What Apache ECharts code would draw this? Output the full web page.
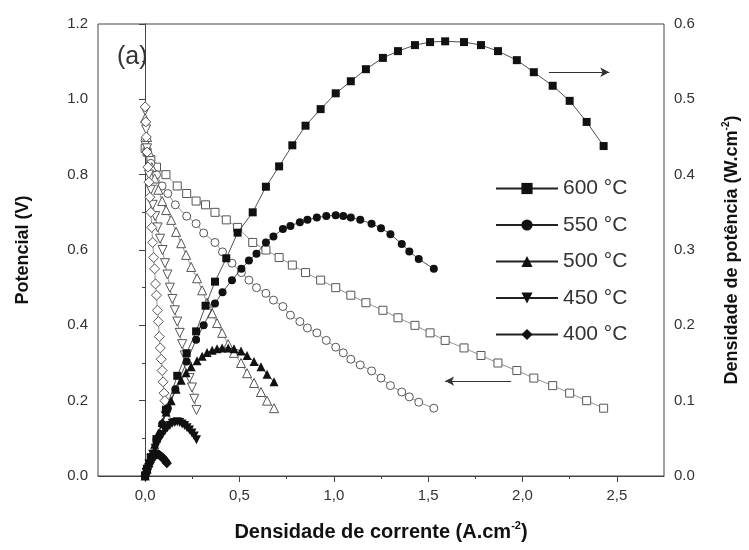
<!DOCTYPE html>
<html>
<head>
<meta charset="utf-8">
<script src="https://cdn.jsdelivr.net/npm/echarts@6/dist/echarts.min.js"></script>
<style>
  html, body { margin: 0; padding: 0; background: #fff; }
  #chart { width: 749px; height: 550px; }
</style>
</head>
<body>
<div id="chart"></div>
<script>
// Fuel-cell polarisation (V) and power density (P) curves at five temperatures.
// Current density in A/cm2, potential in V, power density in W/cm2.

const temperatures = ['600 °C', '550 °C', '500 °C', '450 °C', '400 °C'];

const current600 = [0.00, 0.01, 0.03, 0.06, 0.11, 0.17, 0.22, 0.27, 0.32, 0.37, 0.43, 0.49, 0.57, 0.64, 0.71, 0.78, 0.85, 0.93, 1.01, 1.09, 1.17, 1.26, 1.34, 1.43, 1.51, 1.59, 1.69, 1.78, 1.87, 1.97, 2.06, 2.16, 2.25, 2.34, 2.43];
const voltage600 = [0.87, 0.86, 0.84, 0.82, 0.80, 0.77, 0.75, 0.73, 0.72, 0.70, 0.68, 0.66, 0.62, 0.60, 0.58, 0.56, 0.54, 0.52, 0.50, 0.48, 0.46, 0.44, 0.42, 0.40, 0.38, 0.36, 0.34, 0.32, 0.30, 0.28, 0.26, 0.24, 0.22, 0.20, 0.18];
const power600   = [0.000, 0.009, 0.025, 0.049, 0.088, 0.133, 0.163, 0.192, 0.226, 0.258, 0.289, 0.323, 0.350, 0.384, 0.411, 0.439, 0.465, 0.487, 0.508, 0.524, 0.540, 0.555, 0.564, 0.572, 0.576, 0.577, 0.576, 0.572, 0.564, 0.552, 0.536, 0.518, 0.498, 0.470, 0.438];

const current550 = [0.00, 0.01, 0.03, 0.06, 0.09, 0.12, 0.16, 0.22, 0.27, 0.31, 0.37, 0.41, 0.46, 0.51, 0.55, 0.59, 0.64, 0.68, 0.73, 0.77, 0.82, 0.86, 0.91, 0.96, 1.01, 1.05, 1.09, 1.14, 1.20, 1.25, 1.30, 1.36, 1.40, 1.45, 1.53];
const voltage550 = [0.89, 0.86, 0.83, 0.80, 0.77, 0.75, 0.72, 0.69, 0.67, 0.645, 0.62, 0.595, 0.565, 0.54, 0.52, 0.50, 0.485, 0.467, 0.45, 0.427, 0.41, 0.393, 0.38, 0.36, 0.342, 0.327, 0.31, 0.295, 0.279, 0.26, 0.24, 0.223, 0.21, 0.196, 0.18];
const power550   = [0.000, 0.009, 0.025, 0.048, 0.069, 0.090, 0.115, 0.152, 0.181, 0.200, 0.229, 0.244, 0.260, 0.275, 0.286, 0.295, 0.310, 0.318, 0.328, 0.332, 0.337, 0.340, 0.343, 0.345, 0.346, 0.345, 0.343, 0.340, 0.335, 0.329, 0.321, 0.308, 0.298, 0.288, 0.275];

const current500 = [0.00, 0.01, 0.02, 0.035, 0.05, 0.07, 0.09, 0.111, 0.138, 0.164, 0.191, 0.217, 0.244, 0.275, 0.302, 0.328, 0.355, 0.381, 0.408, 0.44, 0.471, 0.508, 0.540, 0.577, 0.614, 0.646, 0.683];
const voltage500 = [0.95, 0.90, 0.86, 0.82, 0.79, 0.76, 0.73, 0.706, 0.68, 0.648, 0.618, 0.587, 0.555, 0.525, 0.493, 0.46, 0.432, 0.406, 0.38, 0.35, 0.327, 0.30, 0.273, 0.247, 0.223, 0.20, 0.18];
const power500   = [0.000, 0.009, 0.018, 0.030, 0.042, 0.057, 0.071, 0.085, 0.100, 0.115, 0.127, 0.137, 0.145, 0.153, 0.159, 0.164, 0.167, 0.169, 0.170, 0.170, 0.169, 0.166, 0.160, 0.152, 0.145, 0.135, 0.125];

const current450 = [0.000, 0.005, 0.010, 0.020, 0.030, 0.040, 0.053, 0.066, 0.079, 0.092, 0.105, 0.118, 0.131, 0.144, 0.157, 0.170, 0.183, 0.196, 0.209, 0.222, 0.235, 0.248, 0.260, 0.272];
const voltage450 = [0.97, 0.92, 0.87, 0.80, 0.76, 0.72, 0.69, 0.66, 0.63, 0.60, 0.565, 0.535, 0.50, 0.47, 0.44, 0.41, 0.38, 0.35, 0.32, 0.29, 0.26, 0.235, 0.205, 0.175];
const power450   = [0.000, 0.005, 0.009, 0.016, 0.023, 0.029, 0.037, 0.044, 0.050, 0.055, 0.060, 0.064, 0.067, 0.070, 0.071, 0.072, 0.071, 0.069, 0.067, 0.064, 0.061, 0.057, 0.053, 0.048];

const current400 = [0.000, 0.003, 0.006, 0.010, 0.015, 0.020, 0.025, 0.030, 0.035, 0.040, 0.045, 0.050, 0.055, 0.060, 0.065, 0.070, 0.075, 0.080, 0.085, 0.090, 0.095, 0.100, 0.105, 0.110, 0.115];
const voltage400 = [0.98, 0.94, 0.90, 0.86, 0.82, 0.78, 0.74, 0.70, 0.66, 0.62, 0.58, 0.55, 0.51, 0.48, 0.44, 0.41, 0.37, 0.34, 0.31, 0.28, 0.25, 0.22, 0.20, 0.17, 0.15];
const power400   = [0.000, 0.003, 0.005, 0.009, 0.012, 0.016, 0.018, 0.021, 0.023, 0.025, 0.026, 0.027, 0.028, 0.029, 0.029, 0.029, 0.028, 0.027, 0.026, 0.025, 0.024, 0.022, 0.021, 0.019, 0.017];

const currentTicks = [0, 0.5, 1.0, 1.5, 2.0, 2.5];
const currentMinorTicks = [0.25, 0.75, 1.25, 1.75, 2.25];

const groups = [
  { name: temperatures[0], symbol: 'rect',     size: 8,  i: current600, v: voltage600, p: power600 },
  { name: temperatures[1], symbol: 'circle',   size: 8,  i: current550, v: voltage550, p: power550 },
  { name: temperatures[2], symbol: 'triangle', size: 9,  i: current500, v: voltage500, p: power500 },
  { name: temperatures[3], symbol: 'triangle', size: 9,  i: current450, v: voltage450, p: power450, rotate: 180 },
  { name: temperatures[4], symbol: 'diamond',  size: 10, i: current400, v: voltage400, p: power400 }
];

const FONT = '"Liberation Sans", Arial, Helvetica, sans-serif';
const AXIS_COLOR = '#444';
const TEXT_COLOR = '#333';

const series = [];

// Hollow markers: potential against current density (left axis)
groups.forEach(function (g, k) {
  const s = {
    name: 'V ' + g.name,
    type: 'line',
    xAxisIndex: 0,
    yAxisIndex: 0,
    data: g.i.map(function (c, j) { return [c, g.v[j]]; }),
    symbol: g.symbol,
    symbolSize: g.size,
    symbolRotate: g.rotate || 0,
    showAllSymbol: true,
    lineStyle: { color: '#777', width: 0.8 },
    itemStyle: { color: '#fff', borderColor: '#555', borderWidth: 1 },
    z: 2,
    animation: false
  };
  if (k === 0) {
    // direction arrows pointing to the axis each family of curves belongs to
    s.markLine = {
      silent: true,
      symbol: ['none', 'arrow'],
      symbolSize: [7, 9],
      animation: false,
      label: { show: false },
      lineStyle: { color: '#333', width: 1, type: 'solid' },
      data: [
        [{ coord: [2.14, 1.072] }, { coord: [2.46, 1.072] }],
        [{ coord: [1.94, 0.252] }, { coord: [1.59, 0.252] }]
      ]
    };
  }
  series.push(s);
});

// Filled markers: power density against current density (right axis)
groups.forEach(function (g) {
  series.push({
    name: g.name,
    type: 'line',
    xAxisIndex: 0,
    yAxisIndex: 1,
    data: g.i.map(function (c, j) { return [c, g.p[j]]; }),
    symbol: g.symbol,
    symbolSize: g.size,
    symbolRotate: g.rotate || 0,
    showAllSymbol: true,
    lineStyle: { color: '#222', width: 0.8 },
    itemStyle: { color: '#111', borderColor: '#111', borderWidth: 0 },
    z: 3,
    animation: false
  });
});

const chart = echarts.init(document.getElementById('chart'), null, { renderer: 'canvas' });

chart.setOption({
  animation: false,
  backgroundColor: '#fff',
  title: {
    text: '(a)',
    left: 112,
    top: 40,
    textStyle: { fontSize: 25, fontWeight: 'normal', color: TEXT_COLOR, fontFamily: FONT }
  },
  legend: {
    orient: 'vertical',
    left: 490,
    top: 173,
    itemWidth: 62,
    itemHeight: 14,
    itemGap: 15.5,
    data: temperatures,
    selectedMode: false,
    textStyle: { fontSize: 21, color: TEXT_COLOR, fontFamily: FONT }
  },
  grid: {
    left: 98, right: 85, top: 24, bottom: 74,
    show: true,
    borderColor: AXIS_COLOR,
    borderWidth: 1,
    backgroundColor: 'transparent'
  },
  xAxis: [
    {
      type: 'value',
      position: 'bottom',
      min: -0.25,
      max: 2.75,
      interval: 0.25,
      splitLine: { show: false },
      axisLine: { lineStyle: { color: AXIS_COLOR, width: 1 } },
      axisTick: { customValues: currentTicks, length: 6, lineStyle: { color: AXIS_COLOR } },
      axisLabel: {
        customValues: currentTicks,
        margin: 12,
        fontSize: 15,
        color: TEXT_COLOR,
        fontFamily: FONT,
        formatter: function (v) { return v.toFixed(1).replace('.', ','); }
      },
      name: '{t|Densidade de corrente (A.cm}{s|-2}{t|)}',
      nameLocation: 'middle',
      nameGap: 44,
      nameTextStyle: {
        rich: {
          t: { fontSize: 20, fontWeight: 'bold', color: '#111', fontFamily: '"Liberation Sans Narrow", "Arial Narrow", ' + FONT, lineHeight: 24 },
          s: { fontSize: 11, fontWeight: 'bold', color: '#111', fontFamily: FONT, verticalAlign: 'top', lineHeight: 24 }
        }
      }
    },
    {
      type: 'value',
      position: 'bottom',
      gridIndex: 0,
      min: -0.25,
      max: 2.75,
      interval: 0.25,
      splitLine: { show: false },
      axisLine: { show: false },
      axisLabel: { show: false },
      axisTick: { customValues: currentMinorTicks, length: 3, lineStyle: { color: AXIS_COLOR } }
    }
  ],
  yAxis: [
    {
      type: 'value',
      position: 'left',
      min: 0,
      max: 1.2,
      interval: 0.2,
      splitLine: { show: false },
      axisLine: { show: true, lineStyle: { color: AXIS_COLOR, width: 1 } },
      axisTick: { show: true, length: 6, lineStyle: { color: AXIS_COLOR } },
      minorTick: { show: true, splitNumber: 2, length: 3, lineStyle: { color: AXIS_COLOR } },
      axisLabel: {
        margin: 10,
        fontSize: 15,
        color: TEXT_COLOR,
        fontFamily: FONT,
        formatter: function (v) { return v.toFixed(1); }
      },
      name: 'Potencial (V)',
      nameLocation: 'middle',
      nameGap: 66,
      nameTextStyle: { fontSize: 18, fontWeight: 'bold', color: '#111', fontFamily: FONT }
    },
    {
      type: 'value',
      position: 'right',
      min: 0,
      max: 0.6,
      interval: 0.1,
      splitLine: { show: false },
      axisLine: { show: true, lineStyle: { color: AXIS_COLOR, width: 1 } },
      axisTick: { show: true, inside: true, length: 6, lineStyle: { color: AXIS_COLOR } },
      minorTick: { show: true, splitNumber: 2, length: 3, lineStyle: { color: AXIS_COLOR } },
      axisLabel: {
        margin: 10,
        fontSize: 15,
        color: TEXT_COLOR,
        fontFamily: FONT,
        formatter: function (v) { return v.toFixed(1); }
      },
      name: '{t|Densidade de potência (W.cm}{s|-2}{t|)}',
      nameLocation: 'middle',
      nameGap: 57,
      nameTextStyle: {
        rich: {
          t: { fontSize: 18, fontWeight: 'bold', color: '#111', fontFamily: FONT, lineHeight: 22 },
          s: { fontSize: 10, fontWeight: 'bold', color: '#111', fontFamily: FONT, verticalAlign: 'top', lineHeight: 22 }
        }
      }
    }
  ],
  series: series
});
</script>
</body>
</html>
